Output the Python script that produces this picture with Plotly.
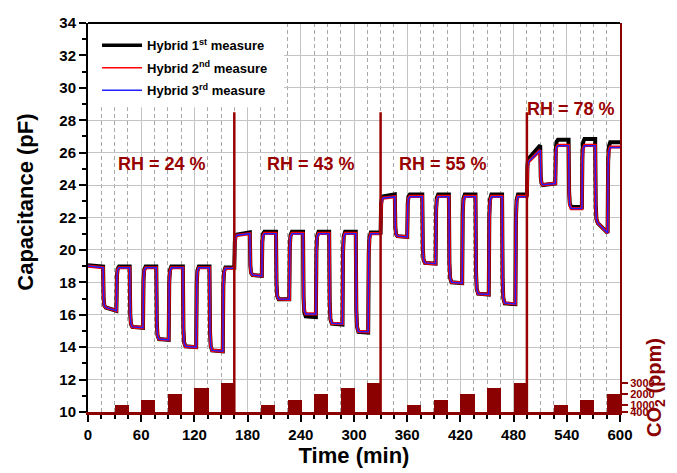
import plotly.graph_objects as go

FONT = "Liberation Sans, Arial, sans-serif"
DARKRED = "#8b0000"
RHRED = "#990000"

# ---------------- data ----------------
rh_change_min = [165, 330, 495]
rh_line_top_pf = 28.5
rh_text = ["RH = 24 %", "RH = 43 %", "RH = 55 %", "RH = 78 %"]
rh_text_min = [84, 252, 400, 545]
rh_text_pf = [25.3, 25.3, 25.3, 28.7]

co2_on_min = [30, 60, 90, 120, 150, 195, 225, 255, 285, 315,
              360, 390, 420, 450, 480, 525, 555, 585]
co2_ppm = [1000, 1500, 2000, 2500, 3000, 1000, 1500, 2000, 2500, 3000,
           1000, 1500, 2000, 2500, 3000, 1000, 1500, 2000]
co2_pulse_min = 16
co2_ticks = [400, 1000, 2000, 3000]

# capacitance response: times where the signal falls / recovers (min)
drop_min = [17, 47, 77, 107, 137, 182.5, 212, 242.5, 272, 302,
            346, 377, 407, 437, 467, 510, 542, 572]
recover_min = [32, 62, 91, 122, 152, 196, 227, 257, 287, 316,
               360, 392, 422, 452, 482, 527, 557, 586]
segment_of_cycle = [0, 0, 0, 0, 0, 1, 1, 1, 1, 1, 2, 2, 2, 2, 2, 3, 3, 3]

# Hybrid 1st measure (black)
m1_start = 19.05
m1_high = [18.97, 18.97, 18.97, 18.97, 18.97, 21.08, 21.12, 21.12, 21.12, 21.12,
           23.42, 23.42, 23.42, 23.42, 23.42, 26.45, 26.8, 26.85]
m1_low_a = [16.45, 15.25, 14.5, 14.05, 13.8, 18.45, 16.95, 15.9, 15.45, 14.95,
            20.85, 19.2, 18.0, 17.3, 16.7, 24.0, 22.65, 21.65]
m1_low_b = [16.25, 15.2, 14.45, 14.0, 13.75, 18.4, 16.95, 15.85, 15.4, 14.9,
            20.8, 19.15, 17.95, 17.25, 16.65, 24.1, 22.65, 21.05]
m1_high_end = [18.92, 21.08, 23.42, 26.65]
m1_jump_to = [20.95, 23.3, 25.7]

# Hybrid 2nd measure (red)
m2_start = 19.0
m2_high = [18.9, 18.9, 18.9, 18.9, 18.9, 21.0, 21.02, 21.02, 21.02, 21.02,
           23.28, 23.3, 23.3, 23.3, 23.3, 26.15, 26.45, 26.45]
m2_low_a = [16.45, 15.25, 14.5, 14.05, 13.8, 18.45, 16.97, 16.05, 15.47, 14.97,
            20.85, 19.2, 18.0, 17.3, 16.72, 24.02, 22.55, 21.65]
m2_low_b = [16.25, 15.2, 14.45, 14.0, 13.75, 18.4, 16.95, 16.05, 15.45, 14.95,
            20.8, 19.15, 17.95, 17.25, 16.67, 24.1, 22.55, 21.05]
m2_high_end = [18.87, 21.0, 23.3, 26.35]
m2_jump_to = [20.9, 23.2, 25.5]

# Hybrid 3rd measure (blue)
m3_start = 19.0
m3_high = [18.9, 18.9, 18.9, 18.9, 18.9, 21.0, 21.0, 21.0, 21.0, 21.0,
           23.27, 23.28, 23.28, 23.28, 23.28, 26.15, 26.42, 26.42]
m3_low_a = [16.45, 15.25, 14.5, 14.05, 13.8, 18.45, 16.97, 16.05, 15.47, 14.97,
            20.85, 19.2, 18.0, 17.3, 16.72, 24.02, 22.55, 21.65]
m3_low_b = [16.25, 15.2, 14.45, 14.0, 13.75, 18.4, 16.95, 16.05, 15.45, 14.95,
            20.8, 19.15, 17.95, 17.25, 16.67, 24.1, 22.55, 21.05]
m3_high_end = [18.87, 21.0, 23.28, 26.32]
m3_jump_to = [20.9, 23.2, 25.5]


def build_curve(start, high, low_a, low_b, high_end, jump_to):
    xs, ys = [0], [start]

    def step(t, a, b):
        xs.extend([t, t + 0.6, t + 1.4, t + 3.0])
        ys.extend([a, a + 0.78 * (b - a), a + 0.95 * (b - a), b])

    n = len(drop_min)
    for i in range(n):
        seg = segment_of_cycle[i]
        step(drop_min[i], high[i], low_a[i])
        last = (i == n - 1) or segment_of_cycle[i + 1] != seg
        target = high_end[seg] if last else high[i + 1]
        step(recover_min[i], low_b[i], target)
        if last and i < n - 1:
            step(rh_change_min[seg], high_end[seg], jump_to[seg])
    xs.append(600)
    ys.append(high_end[-1])
    return xs, ys


fig = go.Figure()

# CO2 pulses (right axis)
fig.add_trace(go.Bar(
    x=co2_on_min, y=co2_ppm, width=co2_pulse_min, offset=0,
    marker=dict(color=DARKRED, line=dict(width=0)),
    yaxis="y2", showlegend=False, hoverinfo="skip"))

series = [
    (build_curve(m1_start, m1_high, m1_low_a, m1_low_b, m1_high_end, m1_jump_to), "black", 4.0),
    (build_curve(m2_start, m2_high, m2_low_a, m2_low_b, m2_high_end, m2_jump_to), "#ff0000", 3.2),
    (build_curve(m3_start, m3_high, m3_low_a, m3_low_b, m3_high_end, m3_jump_to), "#1f1fff", 1.5),
]
for (xs, ys), col, w in series:
    fig.add_trace(go.Scatter(x=xs, y=ys, mode="lines", line=dict(color=col, width=w),
                             showlegend=False, hoverinfo="skip"))

# RH change markers
vx, vy = [], []
for t in rh_change_min:
    vx += [t, t, None]
    vy += [10, rh_line_top_pf, None]
fig.add_trace(go.Scatter(x=vx, y=vy, mode="lines", line=dict(color=RHRED, width=2.5),
                         showlegend=False, hoverinfo="skip"))

# legend entries
for k, (name, col, w) in enumerate([("Hybrid 1<sup>st</sup> measure", "black", 3.5),
                                    ("Hybrid 2<sup>nd</sup> measure", "#ff0000", 1.5),
                                    ("Hybrid 3<sup>rd</sup> measure", "#1f1fff", 1.5)]):
    fig.add_trace(go.Scatter(x=[None], y=[None], mode="lines", name=name,
                             legendgroup="g%d" % k,
                             line=dict(color=col, width=w)))

annotations = []
for txt, t, c in zip(rh_text, rh_text_min, rh_text_pf):
    annotations.append(dict(x=t, y=c, xref="x", yref="y", text=txt, showarrow=False,
                            font=dict(family=FONT, size=18, color=RHRED, weight="bold")))
annotations.append(dict(x=-0.1165, y=0.538, xref="paper", yref="paper", textangle=-90,
                        xanchor="center", yanchor="middle",
                        text="Capacitance (pF)", showarrow=False,
                        font=dict(family=FONT, size=22, color="black", weight="bold")))
annotations.append(dict(x=1.0677, y=0.062, xref="paper", yref="paper", textangle=-90,
                        xanchor="center", yanchor="middle",
                        text="CO<sub>2</sub> (ppm)", showarrow=False,
                        font=dict(family=FONT, size=20, color=DARKRED, weight="bold")))

shapes = [
    # white legend background hiding the grid
    dict(type="rect", xref="x", yref="y", x0=0, x1=221, y0=28.8, y1=34,
         fillcolor="white", line=dict(width=0), layer="between"),
    # top frame
    dict(type="line", xref="paper", yref="paper", x0=0, x1=1, y0=1, y1=1,
         line=dict(color="black", width=2)),
]

fig.update_layout(
    width=677, height=473,
    margin=dict(l=80, r=65, t=15, b=69),
    paper_bgcolor="white", plot_bgcolor="white",
    font=dict(family=FONT, color="black"),
    bargap=0,
    annotations=annotations,
    shapes=shapes,
    legend=dict(x=0.017, y=0.981, xanchor="left", yanchor="top",
                bgcolor="rgba(0,0,0,0)", borderwidth=0, itemwidth=40,
                tracegroupgap=2.5,
                font=dict(family=FONT, size=13, color="black", weight="bold")),
    xaxis=dict(range=[0, 600], tick0=0, dtick=60, ticks="outside", ticklen=7,
               tickwidth=2, tickcolor="black", automargin=False,
               showgrid=True, gridcolor="#c4c4c4", gridwidth=1,
               minor=dict(dtick=15, ticks="outside", ticklen=4, tickwidth=1.5,
                          tickcolor="black", showgrid=True, gridcolor="#a8a8a8",
                          gridwidth=1, griddash="4px,3px"),
               showline=True, linecolor=DARKRED, linewidth=3, zeroline=False,
               tickfont=dict(family=FONT, size=15, color="black", weight="bold"),
               title=dict(text="Time (min)", standoff=6,
                          font=dict(family=FONT, size=22, color="black", weight="bold"))),
    yaxis=dict(range=[10, 34], tick0=10, dtick=2, ticks="outside", ticklen=7,
               tickwidth=2, tickcolor="black", automargin=False,
               showgrid=True, gridcolor="#c4c4c4", gridwidth=1,
               minor=dict(dtick=1, ticks="outside", ticklen=4, tickwidth=1.5,
                          tickcolor="black", showgrid=False),
               showline=True, linecolor="black", linewidth=2, zeroline=False,
               tickfont=dict(family=FONT, size=15, color="black", weight="bold")),
    yaxis2=dict(overlaying="y", side="right", range=[400, 35000], automargin=False,
                tickmode="array", tickvals=co2_ticks, ticktext=[str(v) for v in co2_ticks],
                ticks="outside", ticklen=6, tickwidth=2, tickcolor=DARKRED,
                showgrid=False, zeroline=False,
                showline=True, linecolor=DARKRED, linewidth=2,
                tickfont=dict(family=FONT, size=11, color=DARKRED, weight="bold")),
)

fig.write_html("out.html")
